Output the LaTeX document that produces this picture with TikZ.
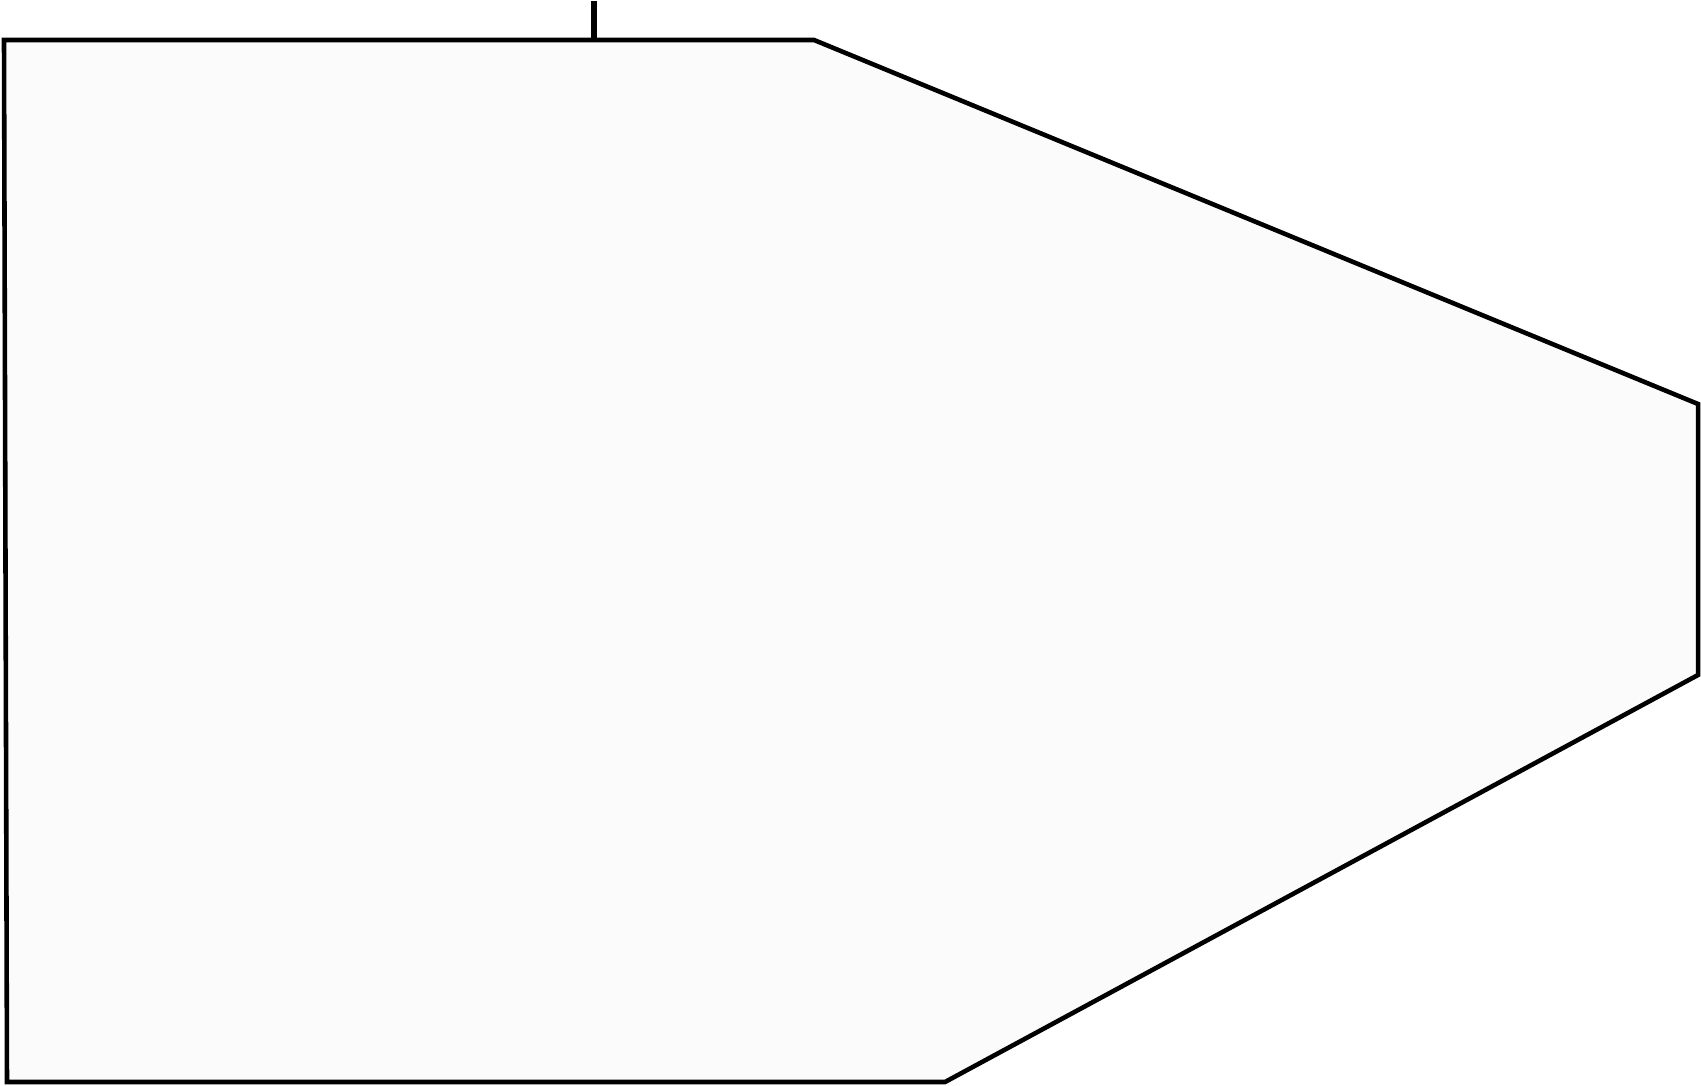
\documentclass[tikz,border=0pt]{standalone}
\usepackage{tikz}
\usetikzlibrary{positioning}
\usepackage{xcolor}
\definecolor{hullfill}{HTML}{FBFBFB}

\begin{document}
\begin{tikzpicture}[x=0.01cm, y=-0.01cm, line join=miter]
			\useasboundingbox (0,0) rectangle (1701,1086);
			\coordinate (tl) at (4,40);
			\coordinate (tk) at (594,42);
			\coordinate (tb) at (814,40);
			\coordinate (rt) at (1698,404);
			\coordinate (rb) at (1698,675);
			\coordinate (bb) at (945,1082);
			\coordinate (bl) at (7,1082);
			\draw[line width=1.3pt, fill=hullfill] (tl) -- (tb) -- (rt) -- (rb) -- (bb) -- (bl) -- cycle;
			\draw[line width=1.5pt] (tk) -- (594,1);
		\end{tikzpicture}
\end{document}
